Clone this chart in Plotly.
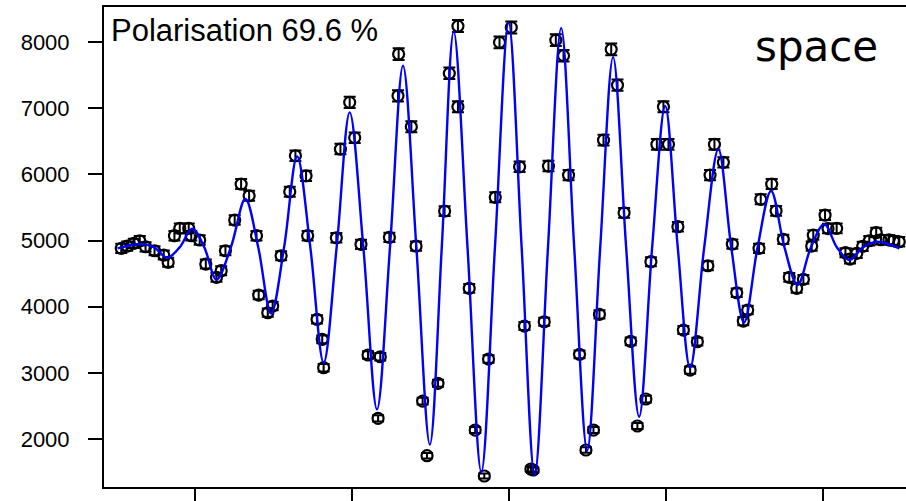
import plotly.graph_objects as go

# Measured counts along the scan (position in arbitrary units)
pos = [-2.473, -2.435, -2.393, -2.355, -2.318, -2.261, -2.202, -2.174, -2.134, -2.100,
       -2.043, -2.027, -1.973, -1.934, -1.866, -1.836, -1.809, -1.750, -1.709, -1.658,
       -1.611, -1.597, -1.539, -1.508, -1.454, -1.399, -1.363, -1.295, -1.285, -1.225,
       -1.192, -1.183, -1.102, -1.076, -1.017, -0.985, -0.945, -0.900, -0.836, -0.822,
       -0.764, -0.709, -0.705, -0.624, -0.594, -0.552, -0.524, -0.454, -0.412, -0.382,
       -0.327, -0.327, -0.255, -0.217, -0.159, -0.132, -0.089, -0.062, 0.013, 0.066,
       0.097, 0.138, 0.153, 0.223, 0.250, 0.297, 0.346, 0.378, 0.448, 0.489,
       0.537, 0.575, 0.601, 0.650, 0.690, 0.732, 0.774, 0.817, 0.871, 0.903,
       0.941, 0.983, 1.015, 1.075, 1.110, 1.153, 1.199, 1.266, 1.280, 1.308,
       1.365, 1.422, 1.450, 1.492, 1.520, 1.592, 1.603, 1.673, 1.701, 1.747,
       1.785, 1.832, 1.875, 1.928, 1.938, 2.013, 2.032, 2.087, 2.143, 2.172,
       2.215, 2.253, 2.295, 2.339, 2.369, 2.420, 2.449, 2.486]
counts = [4882, 4917, 4958, 4997, 4906, 4846, 4781, 4671, 5073, 5184,
          5184, 5073, 5008, 4645, 4444, 4544, 4846, 5310, 5854, 5677,
          5073, 4176, 3909, 4010, 4770, 5738, 6282, 5979, 5073, 3809,
          3507, 3078, 5042, 6383, 7089, 6554, 4943, 3270, 2313, 3244,
          5048, 7188, 7819, 6720, 4917, 2574, 1748, 2842, 5446, 7527,
          8242, 7022, 4278, 2136, 1441, 3209, 5653, 7995, 8222, 6115,
          3708, 1547, 1532, 3773, 6126, 8030, 7793, 5990, 3280, 1834,
          2136, 3885, 6519, 7890, 7350, 5420, 3477, 2197, 2605, 4680,
          6454, 7022, 6454, 5209, 3647, 3043, 3471, 4619, 5990, 6454,
          6182, 4947, 4211, 3783, 3950, 4882, 5623, 5854, 5450, 5018,
          4444, 4278, 4414, 4917, 5083, 5385, 5181, 5184, 4816, 4720,
          4807, 4912, 4997, 5121, 5012, 5012, 4997, 4982]

# Fitted curve: extrema and mid-crossings of the damped oscillation
fit_pos = [-2.497, -2.350, -2.265, -2.180, -2.100, -2.021, -1.944, -1.866, -1.774, -1.682,
           -1.600, -1.518, -1.435, -1.352, -1.268, -1.183, -1.100, -1.017, -0.930, -0.843,
           -0.760, -0.677, -0.592, -0.506, -0.430, -0.354, -0.266, -0.178, -0.091, -0.004,
           0.079, 0.162, 0.247, 0.331, 0.414, 0.497, 0.580, 0.662, 0.745, 0.828,
           0.911, 0.994, 1.074, 1.153, 1.243, 1.333, 1.415, 1.497, 1.583, 1.669,
           1.754, 1.838, 1.923, 2.008, 2.088, 2.168, 2.256, 2.344, 2.486]
fit_counts = [4882, 4947, 4900, 4740, 4900, 5178, 4900, 4411, 4900, 5627,
              4900, 3897, 4900, 6273, 4900, 3153, 4900, 6938, 4900, 2449,
              4900, 7642, 4900, 1917, 4900, 8159, 4900, 1501, 4900, 8292,
              4900, 1456, 4900, 8212, 4900, 1826, 4900, 7773, 4900, 2337,
              4900, 7033, 4900, 3073, 4900, 6378, 4900, 3761, 4900, 5748,
              4900, 4328, 4900, 5249, 4900, 4705, 4900, 4982, 4882]

y_ticks = [2000, 3000, 4000, 5000, 6000, 7000, 8000]
x_ticks = [-2, -1, 0, 1, 2]

fig = go.Figure()

fig.add_trace(go.Scatter(
    x=pos, y=counts, mode="markers",
    marker=dict(symbol="circle-open", size=11, color="black", line=dict(width=2.2, color="black")),
    error_y=dict(type="sqrt", visible=True, color="black", thickness=2, width=6),
    showlegend=False,
))

fig.add_trace(go.Scatter(
    x=fit_pos, y=fit_counts, mode="lines",
    line=dict(color="#0000ff", width=2.4, shape="spline", smoothing=1.0),
    showlegend=False,
))

fig.add_annotation(
    text="Polarisation 69.6 %", xref="paper", yref="paper",
    x=0.006, y=0.952, xanchor="left", yanchor="middle", showarrow=False,
    font=dict(family="Liberation Sans, Arial", size=31, color="black"),
)
fig.add_annotation(
    text="space", xref="paper", yref="paper",
    x=0.9676, y=0.918, xanchor="right", yanchor="middle", showarrow=False,
    font=dict(family="DejaVu Sans", size=42, color="black"),
)

fig.update_xaxes(
    range=[-2.583, 2.529], tickvals=x_ticks, showticklabels=False,
    ticks="outside", ticklen=14, tickwidth=2, tickcolor="black",
    showline=True, linewidth=2, linecolor="black", mirror=True,
    showgrid=False, zeroline=False,
)
fig.update_yaxes(
    range=[1275, 8530], tickvals=y_ticks,
    ticks="outside", ticklen=14, tickwidth=2, tickcolor="black",
    ticklabelstandoff=14,
    tickfont=dict(family="Liberation Sans, Arial", size=22, color="black"),
    showline=True, linewidth=2, linecolor="black", mirror=False,
    showgrid=False, zeroline=False,
)

fig.update_layout(
    width=906, height=501,
    margin=dict(l=104, r=0, t=7, b=14),
    paper_bgcolor="white", plot_bgcolor="white",
)

fig.write_html("out.html")
